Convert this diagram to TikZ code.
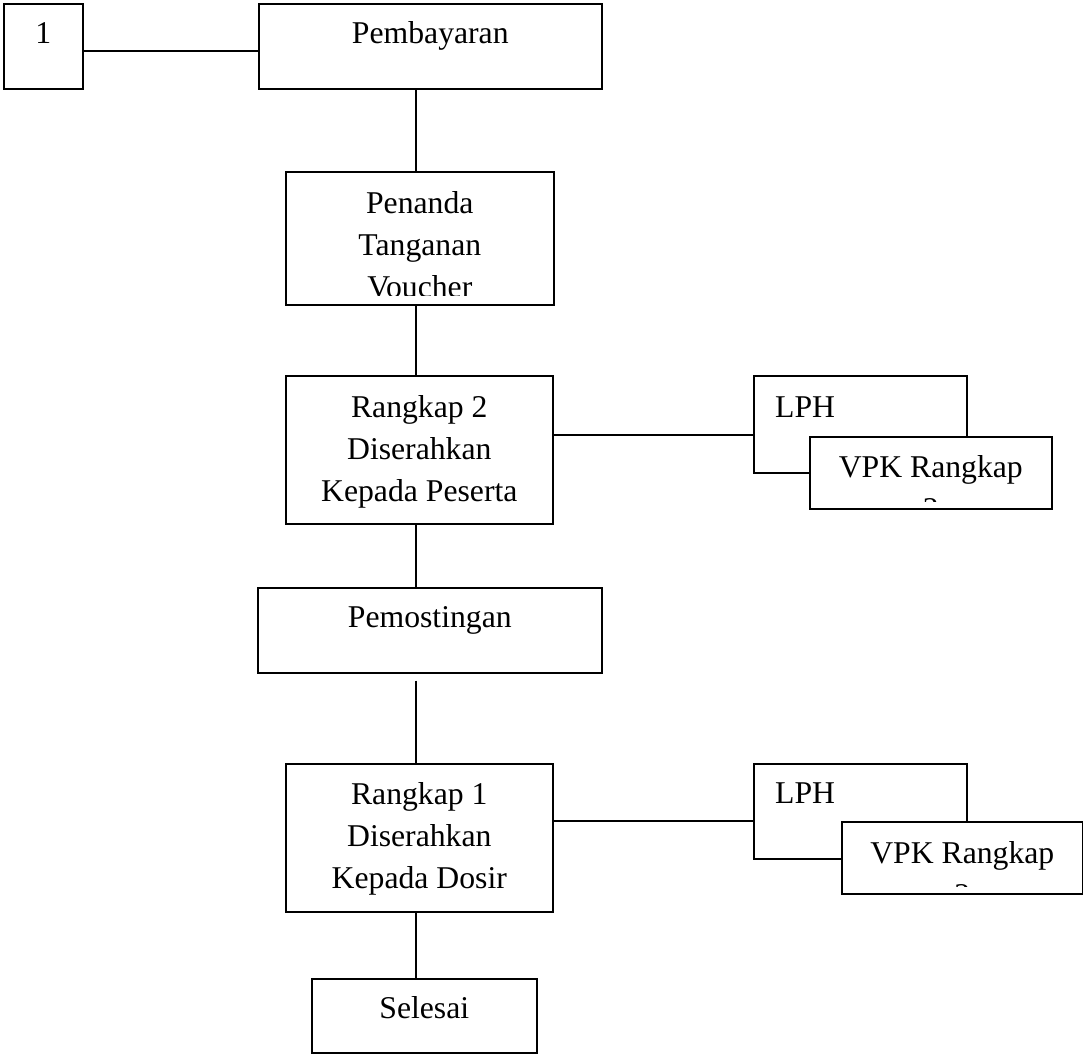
\documentclass[tikz,border=0pt]{standalone}
\usepackage{fontspec}
\setmainfont{Liberation Serif}
\begin{document}
\begin{tikzpicture}[x=1pt,y=-1pt,
  box/.style={draw,line width=1.6pt,fill=white,rectangle,anchor=north west,inner sep=0pt},
  lbl/.style={font=\fontsize{31.7}{42}\selectfont,inner sep=0pt,anchor=base},
  lbll/.style={lbl,anchor=base west},
  link/.style={line width=1.6pt}]
\useasboundingbox (0,0) rectangle (1083,1053);
\coordinate (spine) at (416,0);

% boxes of the main column
\node[box,minimum width=79pt,minimum height=85pt] (one) at (3,3) {};
\node[box,minimum width=343pt,minimum height=85pt] (pemb) at (258,3) {};
\node[box,minimum width=268pt,minimum height=133pt] (pen) at (285,171) {};
\node[box,minimum width=267pt,minimum height=148pt] (rk2) at (285,375) {};
\node[box,minimum width=344pt,minimum height=85pt] (pemo) at (257,587) {};
\node[box,minimum width=267pt,minimum height=148pt] (rk1) at (285,763) {};
\node[box,minimum width=225pt,minimum height=74pt] (sel) at (311,978) {};

% side documents
\node[box,minimum width=213pt,minimum height=97pt] (lph1) at (753,375) {};
\node[box,minimum width=242pt,minimum height=72pt] (vpk1) at (809,436) {};
\node[box,minimum width=213pt,minimum height=95pt] (lph2) at (753,763) {};
\node[box,minimum width=241pt,minimum height=72pt] (vpk2) at (841,821) {};

% labels
\node[lbl] (t1) at ([yshift=-40pt]one.north) {1};
\node[lbl] (tpemb) at ([yshift=-40pt]pemb.north) {Pembayaran};
\begin{scope}
  \clip (pen.north west) rectangle ([yshift=10pt]pen.south east);
  \node[lbl] (tpen1) at ([yshift=-42pt]pen.north) {Penanda};
  \node[lbl] (tpen2) at ([yshift=-84pt]pen.north) {Tanganan};
  \node[lbl] (tpen3) at ([yshift=-126pt]pen.north) {Voucher};
\end{scope}
\node[lbl] (trk2a) at ([yshift=-42pt]rk2.north) {Rangkap 2};
\node[lbl] (trk2b) at ([yshift=-84pt]rk2.north) {Diserahkan};
\node[lbl] (trk2c) at ([yshift=-126pt]rk2.north) {Kepada Peserta};
\node[lbl] (tpemo) at ([yshift=-40pt]pemo.north) {Pemostingan};
\node[lbl] (trk1a) at ([yshift=-41pt]rk1.north) {Rangkap 1};
\node[lbl] (trk1b) at ([yshift=-83pt]rk1.north) {Diserahkan};
\node[lbl] (trk1c) at ([yshift=-125pt]rk1.north) {Kepada Dosir};
\node[lbl] (tsel) at ([yshift=-40pt]sel.north) {Selesai};

\node[lbll] (tlph1) at ([xshift=22pt,yshift=-42pt]lph1.north west) {LPH};
\begin{scope}
  \clip (vpk1.north west) rectangle ([yshift=8pt]vpk1.south east);
  \node[lbl] (tvpk1a) at ([yshift=-41pt]vpk1.north) {VPK Rangkap};
  \node[lbl] (tvpk1b) at ([yshift=-83pt]vpk1.north) {2};
\end{scope}
\node[lbll] (tlph2) at ([xshift=22pt,yshift=-40pt]lph2.north west) {LPH};
\begin{scope}
  \clip (vpk2.north west) rectangle ([yshift=8pt]vpk2.south east);
  \node[lbl] (tvpk2a) at ([yshift=-42pt]vpk2.north) {VPK Rangkap};
  \node[lbl] (tvpk2b) at ([yshift=-84pt]vpk2.north) {2};
\end{scope}

% connectors
\draw[link] ([yshift=-4.5pt]one.east) -- ([yshift=-4.5pt]pemb.west);
\draw[link] (pemb.south -| spine) -- (pen.north -| spine);
\draw[link] (pen.south -| spine) -- (rk2.north -| spine);
\draw[link] (rk2.south -| spine) -- (pemo.north -| spine);
\draw[link,shorten <=7pt] (pemo.south -| spine) -- (rk1.north -| spine);
\draw[link] (rk1.south -| spine) -- (sel.north -| spine);
\draw[link] ([yshift=-60pt]rk2.north east) -- ([yshift=-60pt]lph1.north west);
\draw[link] ([yshift=-58pt]rk1.north east) -- ([yshift=-58pt]lph2.north west);
\end{tikzpicture}
\end{document}
